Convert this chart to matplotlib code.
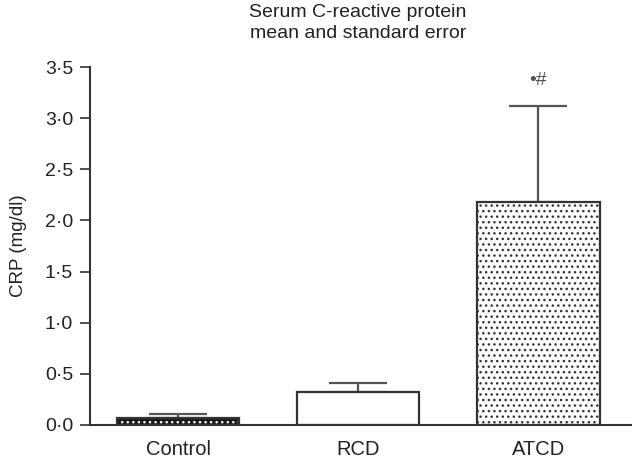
#import libraries
import matplotlib
matplotlib.use('Agg')
from matplotlib import pyplot as plt
from matplotlib.ticker import FuncFormatter
import numpy as np

#font
plt.rcParams['font.family'] = ['Liberation Sans', 'DejaVu Sans']
plt.rcParams['hatch.linewidth'] = 1.0

#data
groups = ['Control', 'RCD', 'ATCD']
crp_mean = [0.07, 0.32, 2.18]
crp_se = [0.04, 0.09, 0.94]
marks = ['', '', '\u2022#']

fig = plt.figure(figsize=(6.32, 4.66), dpi=100)
ax = fig.add_axes([0.142, 0.088, 0.858, 0.768])

x = np.arange(len(groups))
w = 0.68

#error bars (only upward)
ax.errorbar(x, crp_mean, yerr=[np.zeros(3), crp_se], fmt='none',
            ecolor='#555555', elinewidth=1.6, capsize=21, capthick=1.6, zorder=1)

#fills: control dark with white dots, RCD empty, ATCD white with black dots
ax.bar(x[0], crp_mean[0], w, color='#1a1a1a', edgecolor='white', hatch='...', linewidth=0, zorder=2)
ax.bar(x[2], crp_mean[2], w, color='white', edgecolor='#333333', hatch='...', linewidth=0, zorder=2)
ax.bar(x[1], crp_mean[1], w, color='white', linewidth=0, zorder=2)
#outlines
ax.bar(x, crp_mean, w, fill=False, edgecolor='#333333', linewidth=1.6, zorder=3)

for xi, m, s, t in zip(x, crp_mean, crp_se, marks):
    if t:
        ax.text(xi, m + s + 0.25, t, ha='center', va='center', fontsize=14, color='#555555')

ax.set_xlim(-0.49, 2.52)
ax.set_ylim(0, 3.5)
ax.set_yticks(np.arange(0, 3.51, 0.5))
ax.yaxis.set_major_formatter(FuncFormatter(lambda v, p: ('%.1f' % v).replace('.', '\u00b7')))
ax.set_xticks(x)
ax.set_xticklabels(groups)
ax.tick_params(axis='x', length=0, pad=11, labelsize=14.5, colors='#222222')
ax.tick_params(axis='y', length=7, width=1.2, direction='out', pad=5, labelsize=14,
               colors='#333333', labelcolor='#222222')

for s in ['top', 'right']:
    ax.spines[s].set_visible(False)
for s in ['left', 'bottom']:
    ax.spines[s].set_linewidth(1.5)
    ax.spines[s].set_color('#333333')

ax.set_ylabel('CRP (mg/dl)', fontsize=13.5, color='#222222', labelpad=13)
fig.text(0.566, 0.95, 'Serum C-reactive protein\nmean and standard error',
         ha='center', va='center', fontsize=14, color='#222222', linespacing=1.3)

fig.savefig('out.png', dpi=100)
